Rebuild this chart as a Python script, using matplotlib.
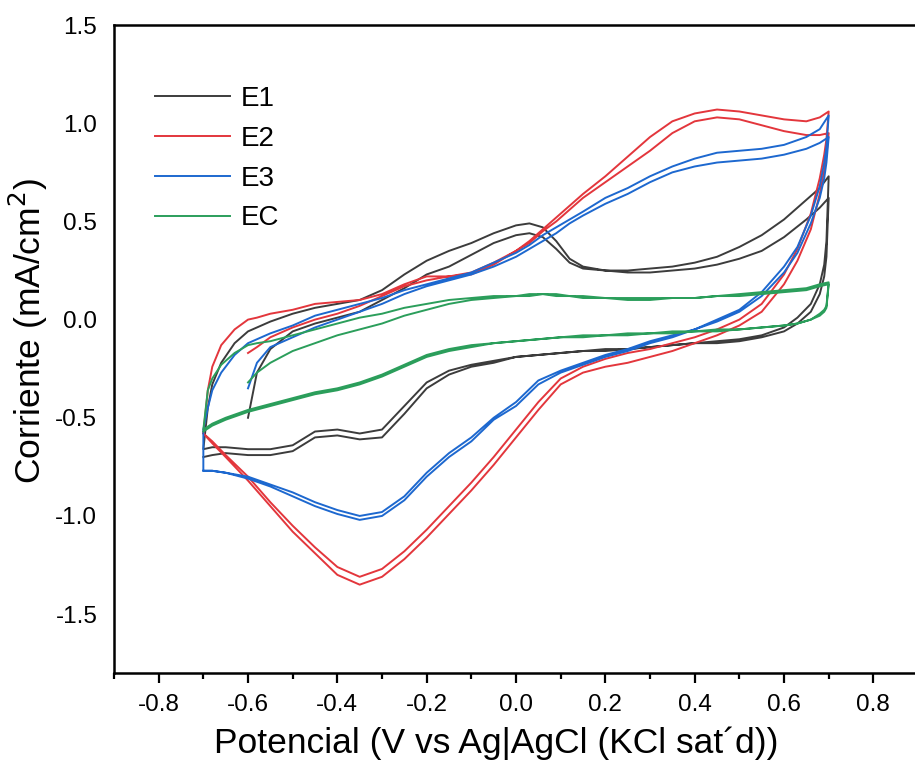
import numpy as np
import matplotlib
matplotlib.use("Agg")
import matplotlib.pyplot as plt

plt.rcParams['font.family'] = ['Liberation Sans', 'DejaVu Sans']
plt.rcParams['axes.unicode_minus'] = False

# potential grids (V) for the anodic (up) and cathodic (down) sweeps
v_up = [-0.70, -0.69, -0.68, -0.66, -0.63, -0.60, -0.58, -0.55, -0.50, -0.45, -0.40,
        -0.35, -0.30, -0.25, -0.20, -0.15, -0.10, -0.05, 0.00, 0.03, 0.06, 0.09, 0.12,
        0.15, 0.20, 0.25, 0.30, 0.35, 0.40, 0.45, 0.50, 0.55, 0.60, 0.65, 0.68, 0.70]
v_down = [0.70, 0.695, 0.69, 0.68, 0.66, 0.63, 0.60, 0.55, 0.50, 0.45, 0.40, 0.35,
          0.30, 0.25, 0.20, 0.15, 0.10, 0.05, 0.00, -0.05, -0.10, -0.15, -0.20, -0.25,
          -0.30, -0.35, -0.40, -0.45, -0.50, -0.55, -0.60, -0.65, -0.68, -0.70]
# first sweep starts at -0.6 V
v_start = v_up[5:]

# currents (mA/cm2): cycle 1 up, cycle 1 down, cycle 2 up, cycle 2 down
e1_up1 = [-0.50, -0.27, -0.15, -0.06, -0.02, 0.01, 0.04, 0.10, 0.16, 0.23, 0.27, 0.33,
          0.39, 0.43, 0.44, 0.42, 0.36, 0.29, 0.26, 0.25, 0.24, 0.24, 0.25, 0.26, 0.28,
          0.31, 0.35, 0.42, 0.51, 0.57, 0.62]
e1_down1 = [0.62, 0.32, 0.22, 0.13, 0.04, -0.02, -0.06, -0.09, -0.11, -0.12, -0.12,
            -0.13, -0.14, -0.15, -0.16, -0.16, -0.17, -0.18, -0.19, -0.21, -0.23, -0.26,
            -0.32, -0.44, -0.56, -0.58, -0.56, -0.57, -0.64, -0.66, -0.66, -0.65, -0.65, -0.66]
e1_up2 = [-0.66, -0.45, -0.33, -0.22, -0.12, -0.06, -0.04, -0.01, 0.03, 0.06, 0.08, 0.10,
          0.15, 0.23, 0.30, 0.35, 0.39, 0.44, 0.48, 0.49, 0.47, 0.40, 0.31, 0.27, 0.25,
          0.25, 0.26, 0.27, 0.29, 0.32, 0.37, 0.43, 0.51, 0.61, 0.67, 0.73]
e1_down2 = [0.73, 0.40, 0.28, 0.18, 0.08, 0.01, -0.04, -0.08, -0.10, -0.11, -0.12, -0.13,
            -0.14, -0.15, -0.15, -0.16, -0.17, -0.18, -0.19, -0.22, -0.24, -0.28, -0.35,
            -0.48, -0.60, -0.61, -0.59, -0.60, -0.67, -0.69, -0.69, -0.68, -0.69, -0.70]

e2_up1 = [-0.17, -0.14, -0.09, -0.04, 0.00, 0.03, 0.07, 0.12, 0.17, 0.20, 0.22, 0.24,
          0.29, 0.35, 0.39, 0.45, 0.50, 0.56, 0.62, 0.70, 0.78, 0.86, 0.95, 1.01, 1.03,
          1.02, 0.99, 0.96, 0.94, 0.94, 0.95]
e2_down1 = [0.95, 0.84, 0.76, 0.64, 0.46, 0.30, 0.18, 0.04, -0.03, -0.08, -0.12, -0.16,
            -0.19, -0.22, -0.24, -0.27, -0.33, -0.46, -0.60, -0.74, -0.87, -0.99, -1.11,
            -1.22, -1.31, -1.35, -1.30, -1.19, -1.08, -0.95, -0.82, -0.70, -0.63, -0.58]
e2_up2 = [-0.58, -0.36, -0.24, -0.13, -0.05, 0.00, 0.01, 0.03, 0.05, 0.08, 0.09, 0.10,
          0.13, 0.18, 0.22, 0.22, 0.23, 0.28, 0.35, 0.40, 0.46, 0.52, 0.58, 0.64, 0.73,
          0.83, 0.93, 1.01, 1.05, 1.07, 1.06, 1.04, 1.02, 1.01, 1.03, 1.06]
e2_down2 = [1.06, 0.92, 0.84, 0.72, 0.54, 0.36, 0.23, 0.08, 0.00, -0.05, -0.09, -0.12,
            -0.15, -0.17, -0.20, -0.24, -0.30, -0.42, -0.56, -0.70, -0.83, -0.95, -1.07,
            -1.18, -1.27, -1.31, -1.26, -1.16, -1.05, -0.93, -0.80, -0.69, -0.62, -0.58]

e3_up1 = [-0.35, -0.22, -0.14, -0.09, -0.04, 0.00, 0.04, 0.08, 0.13, 0.17, 0.20, 0.23,
          0.27, 0.32, 0.36, 0.40, 0.44, 0.49, 0.53, 0.59, 0.64, 0.70, 0.75, 0.78, 0.80,
          0.81, 0.82, 0.84, 0.87, 0.90, 0.93]
e3_down1 = [0.93, 0.80, 0.72, 0.62, 0.49, 0.34, 0.24, 0.12, 0.04, -0.01, -0.05, -0.09,
            -0.12, -0.16, -0.19, -0.23, -0.27, -0.33, -0.44, -0.51, -0.62, -0.70, -0.80,
            -0.92, -1.00, -1.02, -0.99, -0.95, -0.90, -0.85, -0.81, -0.78, -0.77, -0.77]
e3_up2 = [-0.56, -0.45, -0.36, -0.27, -0.18, -0.12, -0.10, -0.07, -0.03, 0.02, 0.05, 0.08,
          0.11, 0.15, 0.18, 0.21, 0.24, 0.29, 0.34, 0.38, 0.43, 0.47, 0.51, 0.55, 0.62,
          0.67, 0.73, 0.78, 0.82, 0.85, 0.86, 0.87, 0.89, 0.93, 0.97, 1.04]
e3_down2 = [1.04, 0.88, 0.80, 0.68, 0.53, 0.37, 0.27, 0.14, 0.05, 0.00, -0.05, -0.08,
            -0.11, -0.15, -0.18, -0.22, -0.26, -0.31, -0.42, -0.50, -0.60, -0.68, -0.78,
            -0.90, -0.98, -1.00, -0.97, -0.93, -0.88, -0.84, -0.80, -0.78, -0.77, -0.77]

ec_up1 = [-0.32, -0.27, -0.22, -0.16, -0.12, -0.08, -0.05, -0.02, 0.02, 0.05, 0.08, 0.10,
          0.11, 0.12, 0.12, 0.13, 0.12, 0.12, 0.11, 0.11, 0.10, 0.10, 0.11, 0.11, 0.12,
          0.12, 0.13, 0.14, 0.15, 0.17, 0.18]
ec_down1 = [0.18, 0.06, 0.04, 0.02, 0.00, -0.02, -0.03, -0.04, -0.05, -0.05, -0.06, -0.06,
            -0.07, -0.07, -0.08, -0.08, -0.09, -0.10, -0.11, -0.12, -0.13, -0.15, -0.18,
            -0.23, -0.28, -0.32, -0.35, -0.37, -0.40, -0.43, -0.46, -0.50, -0.53, -0.56]
ec_up2 = [-0.56, -0.36, -0.30, -0.23, -0.17, -0.13, -0.12, -0.11, -0.08, -0.05, -0.02,
          0.01, 0.03, 0.06, 0.08, 0.10, 0.11, 0.12, 0.12, 0.13, 0.13, 0.13, 0.12, 0.12,
          0.11, 0.11, 0.11, 0.11, 0.11, 0.12, 0.13, 0.14, 0.15, 0.16, 0.18, 0.19]
ec_down2 = [0.19, 0.07, 0.05, 0.03, 0.00, -0.02, -0.03, -0.04, -0.05, -0.06, -0.06, -0.07,
            -0.07, -0.08, -0.08, -0.09, -0.09, -0.10, -0.11, -0.12, -0.14, -0.16, -0.19,
            -0.24, -0.29, -0.33, -0.36, -0.38, -0.41, -0.44, -0.47, -0.51, -0.54, -0.57]

labels = ['E1', 'E2', 'E3', 'EC']
colors = ['#3c3c3c', '#e3363c', '#1d68cf', '#2b9e5b']
curves = [
    (e1_up1, e1_down1, e1_up2, e1_down2),
    (e2_up1, e2_down1, e2_up2, e2_down2),
    (e3_up1, e3_down1, e3_up2, e3_down2),
    (ec_up1, ec_down1, ec_up2, ec_down2),
]

fig = plt.figure(figsize=(9.15, 7.75), dpi=100)
ax = fig.add_axes([0.1246, 0.1316, 0.8787, 0.836])

for lab, col, (u1, d1, u2, d2) in zip(labels, colors, curves):
    v = np.concatenate([v_start, v_down, v_up, v_down])
    i = np.concatenate([u1, d1, u2, d2])
    ax.plot(v, i, color=col, lw=1.4, label=lab)

ax.set_xlim(-0.9, 0.9)
ax.set_ylim(-1.8, 1.5)
ax.set_xticks([-0.8, -0.6, -0.4, -0.2, 0.0, 0.2, 0.4, 0.6, 0.8])
ax.set_xticks([-0.9, -0.7, -0.5, -0.3, -0.1, 0.1, 0.3, 0.5, 0.7], minor=True)
ax.set_yticks([-1.5, -1.0, -0.5, 0.0, 0.5, 1.0, 1.5])
ax.xaxis.set_major_formatter(matplotlib.ticker.FormatStrFormatter('%.1f'))
ax.yaxis.set_major_formatter(matplotlib.ticker.FormatStrFormatter('%.1f'))

ax.tick_params(axis='x', which='major', direction='out', length=7, width=1.6,
               labelsize=17.5, pad=8)
ax.tick_params(axis='x', which='minor', direction='out', length=4, width=1.6)
ax.tick_params(axis='y', which='both', length=0, labelsize=17.5, pad=12)
for s in ax.spines.values():
    s.set_linewidth(1.8)
ax.spines['right'].set_visible(False)

ax.set_xlabel('Potencial (V vs Ag|AgCl (KCl sat´d))', fontsize=25.5)
ax.set_ylabel('Corriente (mA/cm$^2$)', fontsize=25.5)
ax.xaxis.set_label_coords(0.476, -0.083)
ax.yaxis.set_label_coords(-0.08, 0.528)

ax.legend(loc='upper left', bbox_to_anchor=(0.02, 0.945), frameon=False, fontsize=20,
          handlelength=2.7, handletextpad=0.4, labelspacing=0.5)

fig.savefig('out.png', dpi=100)
